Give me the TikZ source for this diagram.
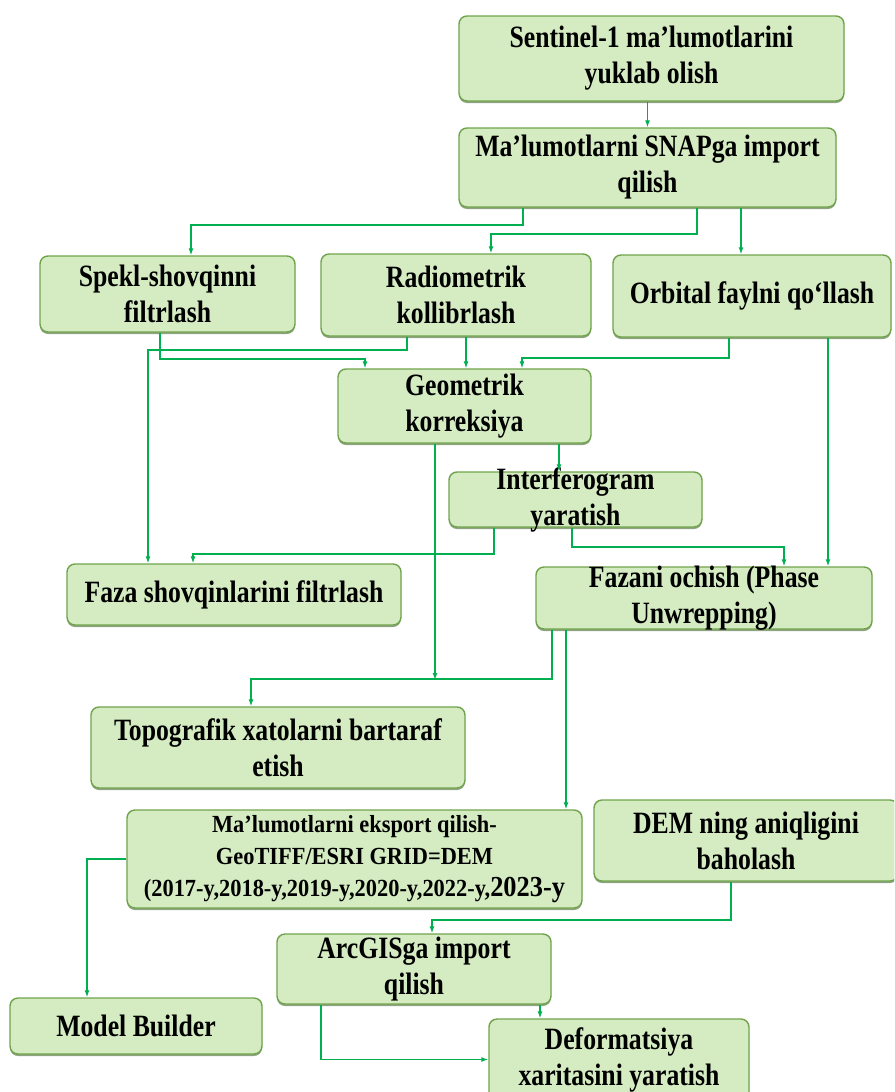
\documentclass[tikz,border=0pt]{standalone}
\usepackage{fontspec}
\setmainfont{Liberation Serif}[FakeStretch=0.83]
\newfontfamily\widefont{Liberation Serif}[FakeStretch=0.91]
\usepackage{tikz}
\usetikzlibrary{arrows.meta,shadows}
\definecolor{boxfill}{RGB}{213,236,194}
\definecolor{boxline}{RGB}{112,163,76}
\definecolor{boxshade}{RGB}{96,124,76}
\definecolor{linkgreen}{RGB}{0,176,80}

\begin{document}
\begin{tikzpicture}[x=1pt, y=-1pt,
  stepbox/.style={draw=boxline, line width=1.4pt, fill=boxfill, rounded corners=8pt, inner sep=0pt,
    drop shadow={shadow xshift=0pt, shadow yshift=-2pt, fill=boxshade, opacity=0.7}},
  steptext/.style={align=center, inner sep=0pt, font=\fontsize{31}{36}\selectfont\bfseries},
  smalltext/.style={steptext, font=\widefont\fontsize{24.6}{32}\selectfont\bfseries},
  link/.style={draw=linkgreen, line width=1.3pt, -{Latex[length=7pt,width=5pt]}}]

  \clip (0,0) rectangle (894,1092);

  \node[stepbox, minimum width=385, minimum height=85] (sentinel) at (651.5,58.5) {};
  \node[stepbox, minimum width=377, minimum height=79] (snap) at (647.5,167.5) {};
  \node[stepbox, minimum width=255, minimum height=76] (spekl) at (167.5,294) {};
  \node[stepbox, minimum width=270, minimum height=82] (radio) at (456,295) {};
  \node[stepbox, minimum width=278, minimum height=82] (orbital) at (752,296) {};
  \node[stepbox, minimum width=253, minimum height=74] (geom) at (464.5,406) {};
  \node[stepbox, minimum width=253, minimum height=55] (interf) at (575.5,499.5) {};
  \node[stepbox, minimum width=334, minimum height=61] (faza) at (234,594.5) {};
  \node[stepbox, minimum width=336, minimum height=62] (fazani) at (704,598) {};
  \node[stepbox, minimum width=374, minimum height=81] (topo) at (278,747.5) {};
  \node[stepbox, minimum width=455, minimum height=98] (eksport) at (354.5,859) {};
  \node[stepbox, minimum width=304, minimum height=81] (dem) at (746,840.5) {};
  \node[stepbox, minimum width=274, minimum height=70] (arcgis) at (414,969) {};
  \node[stepbox, minimum width=252, minimum height=56] (model) at (136,1026) {};
  \node[stepbox, minimum width=260, minimum height=81] (deform) at (619,1059.5) {};

  \node[steptext] (tsentinel) at (sentinel) {Sentinel-1 ma’lumotlarini\\yuklab olish};
  \node[steptext] (tsnap) at (snap) {Ma’lumotlarni SNAPga import\\qilish};
  \node[steptext] (tspekl) at (spekl) {Spekl-shovqinni\\filtrlash};
  \node[steptext] (tradio) at (radio) {Radiometrik\\kollibrlash};
  \node[steptext] (torbital) at (orbital) {Orbital faylni qo‘llash};
  \node[steptext] (tgeom) at (geom) {Geometrik\\korreksiya};
  \node[steptext] (tinterf) at (interf) {Interferogram\\yaratish};
  \node[steptext] (tfaza) at (faza) {Faza shovqinlarini filtrlash};
  \node[steptext] (tfazani) at (fazani) {Fazani ochish (Phase\\Unwrepping)};
  \node[steptext] (ttopo) at (topo) {Topografik xatolarni bartaraf\\etish};
  \node[smalltext] (teksport) at (eksport) {Ma’lumotlarni eksport qilish-\\GeoTIFF/ESRI GRID=DEM\\(2017-y,2018-y,2019-y,2020-y,2022-y,{\fontsize{29}{32}\selectfont 2023-y}};
  \node[steptext] (tdem) at (dem) {DEM ning aniqligini\\baholash};
  \node[steptext] (tarcgis) at (arcgis) {ArcGISga import\\qilish};
  \node[steptext] (tmodel) at (model) {Model Builder};
  \node[steptext] (tdeform) at (deform) {Deformatsiya\\xaritasini yaratish};

  \coordinate (topojoin) at (435,680);

  \draw[link] (sentinel.south -| snap.north) -- (snap.north);
  \draw[link] (snap.south -| 523,0) -- (523,225) -| (spekl.north -| 191,0);
  \draw[link] (snap.south -| 697,0) -- (697,234) -| (radio.north -| 491,0);
  \draw[link] (snap.south -| 741,0) -- (orbital.north -| 741,0);
  \draw[link] (spekl.south -| 160,0) -- (160,359) -| (geom.north -| 365,0);
  \draw[link] (radio.south -| 407,0) -- (407,350) -| (faza.north -| 148,0);
  \draw[link] (radio.south -| 466,0) -- (geom.north -| 466,0);
  \draw[link] (orbital.south -| 729,0) -- (729,358) -| (geom.north -| 522,0);
  \draw[link] (orbital.south -| 828,0) -- (fazani.north -| 828,0);
  \draw[link] (geom.south -| 435,0) -- (topojoin);
  \draw[link] (geom.south -| 559,0) -- (interf.north -| 559,0);
  \draw[link] (interf.south -| 494,0) -- (494,554) -| (faza.north -| 193,0);
  \draw[link] (interf.south -| 572,0) -- (572,547) -| (fazani.north -| 784,0);
  \draw[link] (fazani.south -| 552,0) -- (552,679) -| (topo.north -| 251,0);
  \draw[link] (fazani.south -| 566,0) -- (eksport.north -| 566,0);
  \draw[link] (eksport.west) -| (model.north -| 87,0);
  \draw[link] (dem.south -| 731,0) -- (731,920) -| (arcgis.north -| 432,0);
  \draw[link] (arcgis.south -| 540,0) -- (deform.north -| 540,0);
  \draw[link] (arcgis.south -| 321,0) |- (deform.west);

\end{tikzpicture}
\end{document}
